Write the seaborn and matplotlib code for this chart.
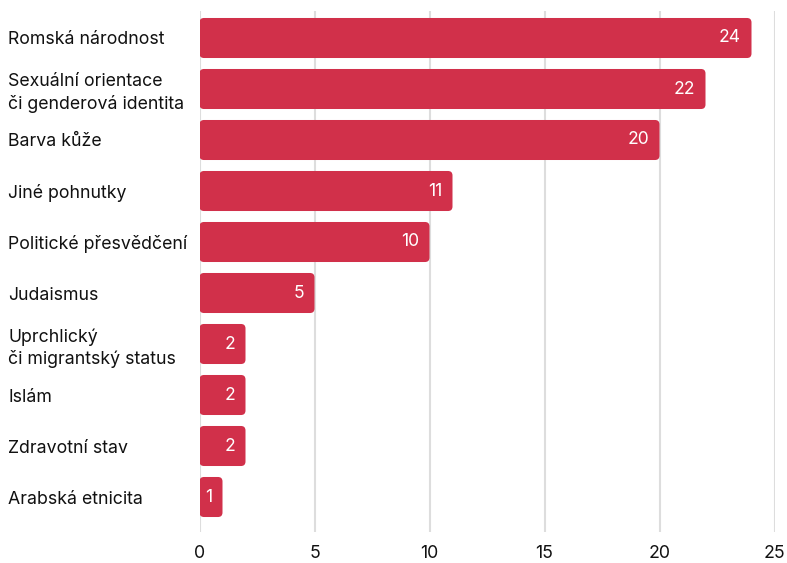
import matplotlib
matplotlib.use("Agg")
import matplotlib.pyplot as plt
import seaborn as sns
import pandas as pd
from matplotlib.patches import FancyBboxPatch

categories = [
    "Romská národnost",
    "Sexuální orientace\nči genderová identita",
    "Barva kůže",
    "Jiné pohnutky",
    "Politické přesvědčení",
    "Judaismus",
    "Uprchlický\nči migrantský status",
    "Islám",
    "Zdravotní stav",
    "Arabská etnicita",
]
values = [24, 22, 20, 11, 10, 5, 2, 2, 2, 1]
x_ticks = [0, 5, 10, 15, 20, 25]

df = pd.DataFrame({"category": categories, "value": values})

sns.set_theme(style="white")
plt.rcParams["font.family"] = ["Inter", "DejaVu Sans"]

BAR = "#D1304A"
GRID = "#DDDDDD"
TXT = "#111111"

W, H = 787, 563
ax_left, ax_right = 199.5, 774.5
ax_top, ax_bot = 11, 532
fig = plt.figure(figsize=(W / 100, H / 100), dpi=100)
ax = fig.add_axes([ax_left / W, 1 - ax_bot / H, (ax_right - ax_left) / W, (ax_bot - ax_top) / H])

sns.barplot(data=df, x="value", y="category", color=BAR, width=0.785,
            saturation=1, ax=ax, zorder=2)

ax.set_xlim(0, 25)
ax.set_xticks(x_ticks)
pitch = 51.0
y_top = -0.5 - 1.5 / pitch
ax.set_ylim(y_top + (ax_bot - ax_top) / pitch, y_top)
ax.grid(axis="x", color=GRID, linewidth=1.5, zorder=0)
ax.grid(axis="y", visible=False)
for s in ax.spines.values():
    s.set_visible(False)
ax.set_xlabel("")
ax.set_ylabel("")

# round bar corners
px_x = (ax_right - ax_left) / 25.0
px_y = pitch
r_px = 4.5
rx = r_px / px_x
ry = r_px / px_y
patches = list(ax.patches)
for p in patches:
    x0, y0 = p.get_x(), p.get_y()
    w, h = p.get_width(), p.get_height()
    fb = FancyBboxPatch((x0, y0), w, h,
                        boxstyle=f"round,pad=0,rounding_size={rx}",
                        mutation_aspect=ry / rx,
                        facecolor=BAR, edgecolor="none", zorder=2)
    p.remove()
    ax.add_patch(fb)

for p, v in zip(patches, values):
    yc = p.get_y() + p.get_height() / 2
    ax.annotate(str(v), xy=(p.get_x() + p.get_width(), yc), xytext=(-7.5, 0),
                textcoords="offset points", ha="right", va="center",
                color="white", fontsize=12.6, zorder=3)

ax.tick_params(axis="y", length=0, pad=(ax_left - 8) / 100 * 72, labelsize=12.75, labelcolor=TXT)
for lab in ax.get_yticklabels():
    lab.set_horizontalalignment("left")
    lab.set_linespacing(1.3)
ax.tick_params(axis="x", length=0, pad=9.5, labelsize=12.75, labelcolor=TXT)

fig.savefig("out.png", dpi=100)
